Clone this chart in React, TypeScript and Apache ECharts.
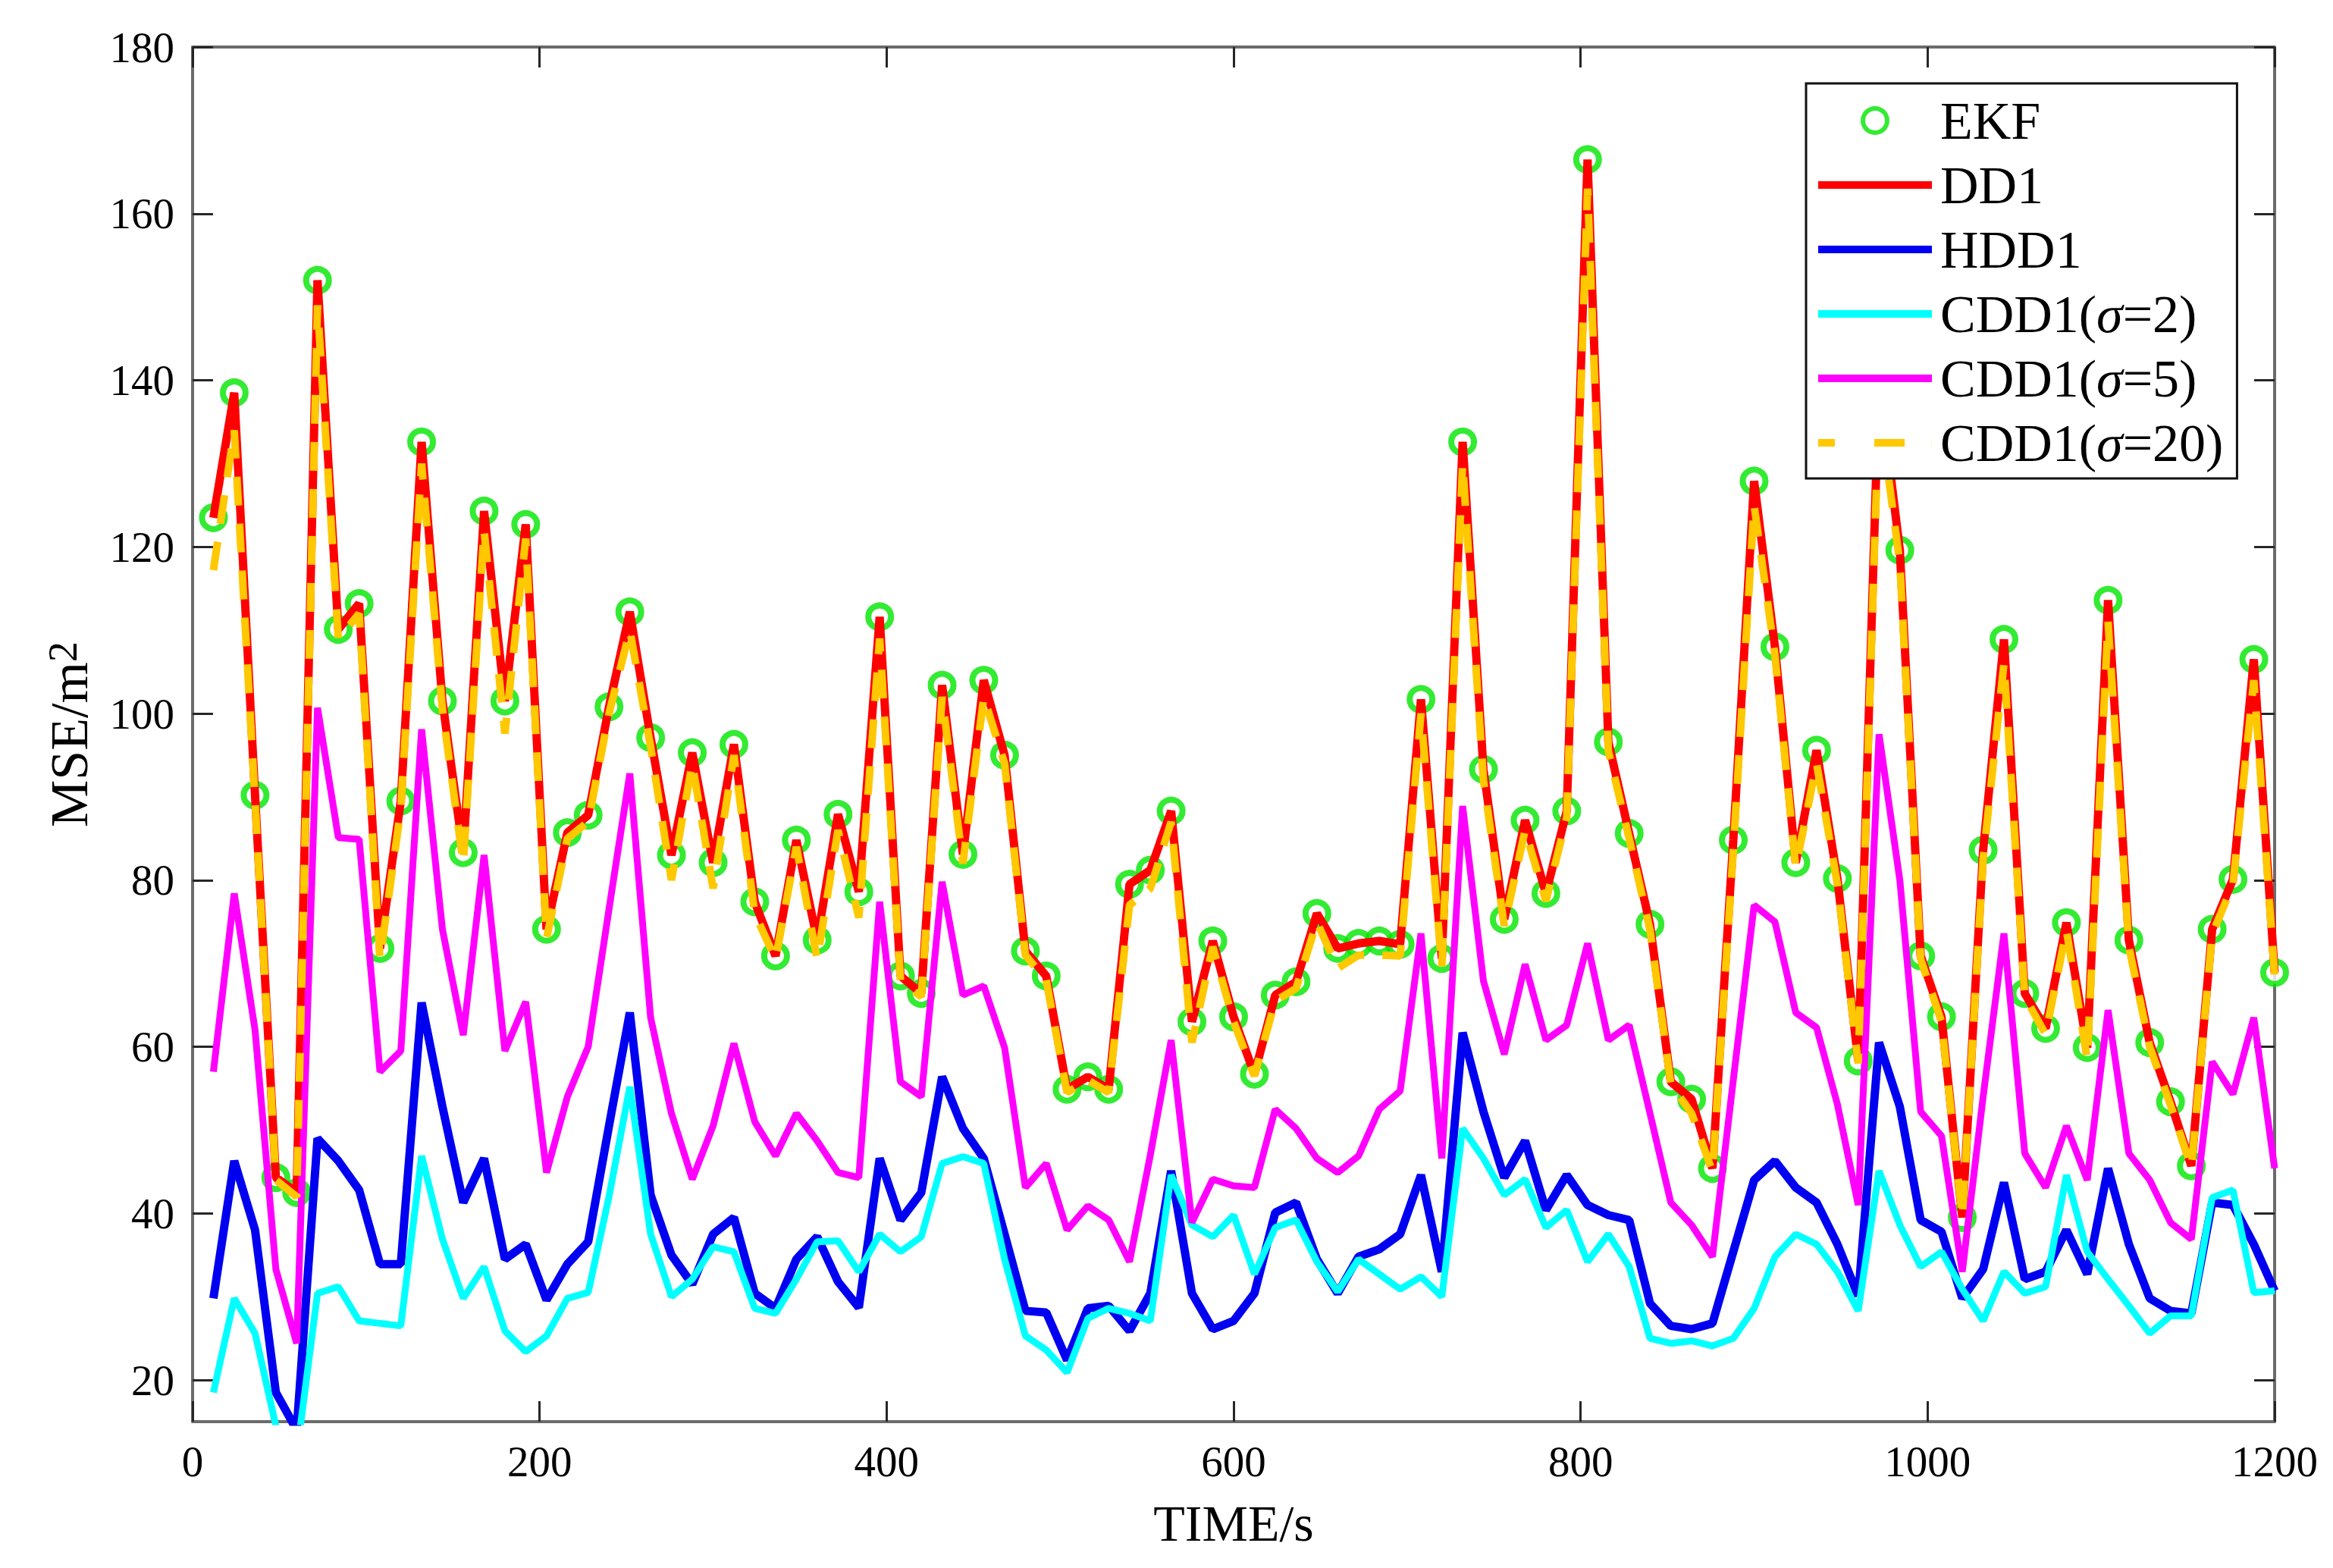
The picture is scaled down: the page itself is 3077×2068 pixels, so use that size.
import React, { useEffect, useRef } from "react";
import * as echarts from "echarts";

const TIME = [
  12, 24, 36, 48, 60, 72, 84, 96, 108, 120,
  132, 144, 156, 168, 180, 192, 204, 216, 228, 240,
  252, 264, 276, 288, 300, 312, 324, 336, 348, 360,
  372, 384, 396, 408, 420, 432, 444, 456, 468, 480,
  492, 504, 516, 528, 540, 552, 564, 576, 588, 600,
  612, 624, 636, 648, 660, 672, 684, 696, 708, 720,
  732, 744, 756, 768, 780, 792, 804, 816, 828, 840,
  852, 864, 876, 888, 900, 912, 924, 936, 948, 960,
  972, 984, 996, 1008, 1020, 1032, 1044, 1056, 1068, 1080,
  1092, 1104, 1116, 1128, 1140, 1152, 1164, 1176, 1188, 1200,
];

const EKF = [
  123.5, 138.5, 90.2, 44.3, 42.5, 152.0, 110.1, 113.2, 71.8, 89.5,
  132.6, 101.5, 83.3, 124.3, 101.5, 122.7, 74.1, 85.7, 87.8, 100.8,
  112.2, 97.1, 83.0, 95.3, 82.1, 96.3, 77.4, 70.9, 84.8, 72.8,
  87.9, 78.6, 111.6, 68.5, 66.4, 103.4, 83.1, 104.0, 95.0, 71.5,
  68.5, 54.9, 56.4, 54.9, 79.5, 81.2, 88.3, 63.0, 72.7, 63.6,
  56.7, 66.2, 67.8, 76.0, 71.8, 72.4, 72.7, 72.3, 101.7, 70.6,
  132.6, 93.3, 75.3, 87.2, 78.4, 88.3, 166.5, 96.6, 85.6, 74.7,
  55.8, 53.7, 45.4, 84.8, 127.9, 108.0, 82.1, 95.6, 80.2, 58.3,
  140.0, 119.6, 70.9, 63.6, 39.5, 83.6, 108.9, 66.4, 62.2, 74.9,
  59.9, 113.6, 72.8, 60.5, 53.4, 45.7, 74.1, 80.1, 106.5, 68.9,
];

const DD1 = [
  123.5, 138.5, 90.2, 44.3, 42.5, 152.0, 110.1, 113.2, 71.8, 89.5,
  132.6, 101.5, 83.3, 124.3, 101.5, 122.7, 74.1, 85.7, 87.8, 100.8,
  112.2, 97.1, 83.0, 95.3, 82.1, 96.3, 77.4, 70.9, 84.8, 72.8,
  87.9, 78.6, 111.6, 68.5, 66.4, 103.4, 83.1, 104.0, 95.0, 71.5,
  68.5, 54.9, 56.4, 54.9, 79.5, 81.2, 88.3, 63.0, 72.7, 63.6,
  56.7, 66.2, 67.8, 76.0, 71.8, 72.4, 72.7, 72.3, 101.7, 70.6,
  132.6, 93.3, 75.3, 87.2, 78.4, 88.3, 166.5, 96.6, 85.6, 74.7,
  55.8, 53.7, 45.4, 84.8, 127.9, 108.0, 82.1, 95.6, 80.2, 58.3,
  140.0, 119.6, 70.9, 63.6, 39.5, 83.6, 108.9, 66.4, 62.2, 74.9,
  59.9, 113.6, 72.8, 60.5, 53.4, 45.7, 74.1, 80.1, 106.5, 68.9,
];

const HDD1 = [
  29.8, 46.3, 38.0, 18.5, 14.0, 49.0, 46.3, 42.8, 33.9, 33.9,
  65.3, 52.8, 41.3, 46.6, 34.5, 36.3, 29.6, 33.9, 36.6, 50.5,
  64.1, 42.2, 35.0, 31.5, 37.5, 39.5, 30.4, 28.6, 34.5, 37.2,
  31.8, 28.7, 46.6, 39.2, 42.5, 56.4, 50.2, 46.6, 37.5, 28.3,
  28.1, 22.4, 28.6, 28.9, 25.9, 30.4, 45.1, 30.4, 26.1, 27.1,
  30.4, 40.1, 41.3, 34.5, 30.4, 34.8, 35.7, 37.5, 44.6, 33.0,
  61.7, 52.2, 44.3, 48.7, 40.4, 44.6, 41.0, 39.8, 39.2, 29.2,
  26.5, 26.1, 26.8, 35.4, 44.0, 46.3, 43.1, 41.3, 36.3, 30.1,
  60.5, 52.8, 39.2, 37.8, 29.8, 33.3, 43.7, 32.1, 33.0, 38.0,
  32.7, 45.4, 36.3, 29.8, 28.3, 28.0, 41.3, 41.0, 36.3, 30.7,
];

const CDD1_S2 = [
  18.5, 29.8, 25.6, 14.5, 11.0, 30.4, 31.2, 27.1, 26.8, 26.5,
  46.9, 36.9, 29.8, 33.6, 25.9, 23.4, 25.3, 29.8, 30.5, 42.0,
  55.2, 37.5, 30.0, 32.1, 36.0, 35.4, 28.6, 28.0, 32.1, 36.6,
  36.7, 33.0, 37.5, 35.4, 37.2, 46.0, 46.8, 46.0, 34.5, 25.3,
  23.6, 20.9, 27.4, 28.6, 28.0, 27.1, 44.6, 38.6, 37.2, 39.8,
  32.7, 38.3, 39.2, 34.2, 30.6, 34.5, 32.7, 30.9, 32.4, 30.0,
  50.2, 46.6, 42.2, 44.1, 38.3, 40.4, 34.2, 37.5, 33.6, 25.0,
  24.4, 24.7, 24.1, 25.0, 28.6, 34.8, 37.5, 36.3, 33.0, 28.3,
  45.1, 38.6, 33.6, 35.4, 30.9, 27.1, 33.0, 30.4, 31.2, 44.6,
  35.4, 32.1, 28.9, 25.6, 27.7, 27.7, 41.9, 42.8, 30.5, 30.7,
];

const CDD1_S5 = [
  57.0, 78.4, 62.0, 33.3, 24.4, 100.7, 85.1, 84.9, 57.0, 59.5,
  98.1, 74.1, 61.4, 83.0, 59.5, 65.4, 44.9, 54.0, 60.0, 76.5,
  92.8, 63.5, 52.0, 44.1, 50.5, 60.4, 51.0, 46.9, 52.0, 48.7,
  44.9, 44.3, 77.4, 55.8, 54.0, 79.8, 66.2, 67.3, 59.9, 43.1,
  46.0, 38.0, 40.9, 39.2, 34.2, 47.0, 60.8, 38.9, 44.1, 43.3,
  43.1, 52.5, 50.2, 46.6, 44.9, 46.9, 52.5, 54.7, 73.6, 46.6,
  88.9, 67.9, 59.1, 69.9, 60.8, 62.6, 72.4, 60.8, 62.6, 52.0,
  41.3, 38.6, 34.8, 56.0, 77.0, 75.0, 64.1, 62.3, 53.1, 41.0,
  97.5, 80.0, 52.2, 49.3, 33.0, 54.0, 73.6, 47.2, 43.1, 50.5,
  44.0, 64.4, 47.2, 44.0, 38.9, 36.9, 58.2, 54.3, 63.5, 45.4,
];

const CDD1_S20 = [
  117.2, 134.0, 89.5, 44.0, 42.0, 149.0, 109.0, 112.0, 70.5, 88.5,
  130.0, 100.5, 82.0, 122.0, 97.6, 121.0, 73.0, 85.0, 87.0, 100.0,
  110.0, 96.0, 80.0, 94.0, 79.0, 95.0, 76.0, 70.5, 84.0, 70.5,
  86.0, 75.5, 109.0, 68.0, 66.0, 102.0, 82.0, 102.0, 94.0, 71.0,
  68.0, 54.5, 56.0, 54.5, 77.0, 79.0, 87.0, 60.5, 72.0, 63.0,
  56.5, 65.5, 67.0, 75.0, 69.4, 71.0, 71.0, 70.9, 100.0, 69.5,
  130.0, 92.0, 74.5, 86.0, 77.5, 87.5, 163.0, 95.5, 85.0, 74.0,
  55.5, 52.0, 45.0, 83.5, 125.0, 107.0, 81.5, 94.0, 79.5, 58.0,
  137.0, 118.0, 70.5, 63.0, 39.5, 82.5, 106.0, 66.0, 61.5, 74.0,
  58.5, 111.0, 72.0, 60.0, 53.0, 45.5, 73.5, 79.5, 104.0, 68.5,
];

const SERIES_NAMES = ["EKF", "DD1", "HDD1", "CDD1(σ=2)", "CDD1(σ=5)", "CDD1(σ=20)"];
const SERIES_COLORS = ["#00e600", "#ff0000", "#0000f0", "#00ffff", "#ff00ff", "#ffc800"];
const Y_TICKS = [20, 40, 60, 80, 100, 120, 140, 160, 180];
const X_TICKS = [0, 200, 400, 600, 800, 1000, 1200];

const FONT = '"Liberation Serif", "Times New Roman", serif';

// legend icon shapes
const RING_ICON =
  "path://M0,19 A19,19 0 1,1 38,19 A19,19 0 1,1 0,19 Z M6,19 A13,13 0 1,0 32,19 A13,13 0 1,0 6,19 Z";
const LINE_ICON = "path://M0,0 H150 V10 H0 Z";
const DASH_ICON = "path://M0,0 H22 V10 H0 Z M74,0 H114 V10 H74 Z M149.8,0 H150 V10 H149.8 Z";

export default function App() {
  const ref = useRef<HTMLDivElement>(null);

  useEffect(() => {
    if (!ref.current) return;
    const chart = echarts.init(ref.current, null, { renderer: "svg" });
    const pts = (vals: number[]) => TIME.map((t, i) => [t, vals[i]]);

    const axisLineStyle = { color: "#6b6b6b", width: 4 };
    const tickStyle = { color: "#262626", width: 3 };
    const labelStyle = {
      color: "#000",
      fontFamily: FONT,
      fontSize: 57,
      formatter: (v: number) => String(v),
    };

    const legendFormatter = (name: string) => {
      const idx = name.indexOf("σ");
      if (idx < 0) return "{n|" + name + "}";
      return "{n|" + name.slice(0, idx) + "}{i|σ}{n|" + name.slice(idx + 1) + "}";
    };

    const lineSeries = (i: number, vals: number[], width: number, dash?: number[]) => ({
      name: SERIES_NAMES[i],
      type: "line",
      data: pts(vals),
      symbol: "none",
      showSymbol: false,
      lineStyle: { color: SERIES_COLORS[i], width, type: dash ? dash : "solid" },
      itemStyle: { color: SERIES_COLORS[i] },
      z: 3,
    });

    chart.setOption({
      animation: false,
      backgroundColor: "#ffffff",
      grid: { left: 254, right: 77, top: 62, bottom: 193, containLabel: false },
      xAxis: [
        {
          type: "value",
          min: 0,
          max: 1200,
          interval: 200,
          position: "bottom",
          axisLine: { show: true, onZero: false, lineStyle: axisLineStyle },
          axisTick: { show: true, inside: true, length: 27, lineStyle: tickStyle, customValues: X_TICKS },
          axisLabel: { ...labelStyle, margin: 24, customValues: X_TICKS },
          splitLine: { show: false },
          name: "TIME/s",
          nameLocation: "middle",
          nameGap: 100,
          nameTextStyle: { color: "#000", fontFamily: FONT, fontSize: 68 },
        },
        {
          type: "value",
          min: 0,
          max: 1200,
          interval: 200,
          position: "top",
          axisLine: { show: true, onZero: false, lineStyle: axisLineStyle },
          axisTick: { show: true, inside: true, length: 27, lineStyle: tickStyle, customValues: X_TICKS },
          axisLabel: { show: false },
          splitLine: { show: false },
        },
      ],
      yAxis: [
        {
          type: "value",
          min: 15,
          max: 180,
          position: "left",
          axisLine: { show: true, onZero: false, lineStyle: axisLineStyle },
          axisTick: { show: true, inside: true, length: 27, lineStyle: tickStyle, customValues: Y_TICKS },
          axisLabel: { ...labelStyle, margin: 24, customValues: Y_TICKS },
          splitLine: { show: false },
          name: "{a|MSE/m}{b|2}",
          nameLocation: "middle",
          nameRotate: 90,
          nameGap: 128,
          nameMoveOverlap: false,
          nameTextStyle: {
            color: "#000",
            fontFamily: FONT,
            fontSize: 70,
            rich: {
              a: { fontFamily: FONT, fontSize: 70, lineHeight: 70, verticalAlign: "bottom", color: "#000" },
              b: { fontFamily: FONT, fontSize: 54, lineHeight: 54, verticalAlign: "top", padding: [0, 0, 58, 0], color: "#000" },
            },
          },
        },
        {
          type: "value",
          min: 15,
          max: 180,
          position: "right",
          axisLine: { show: true, onZero: false, lineStyle: axisLineStyle },
          axisTick: { show: true, inside: true, length: 27, lineStyle: tickStyle, customValues: Y_TICKS },
          axisLabel: { show: false },
          splitLine: { show: false },
        },
      ],
      legend: {
        orient: "vertical",
        left: 2382,
        top: 110,
        backgroundColor: "#ffffff",
        borderColor: "#111",
        borderWidth: 3,
        borderRadius: 0,
        padding: [14, 18, 12, 16],
        itemWidth: 150,
        itemHeight: 38,
        itemGap: 15,
        z: 10,
        formatter: legendFormatter,
        textStyle: {
          color: "#000",
          fontFamily: FONT,
          fontSize: 70,
          padding: [0, 0, 0, 6],
          rich: {
            n: { color: "#000", fontFamily: FONT, fontSize: 70 },
            i: { color: "#000", fontFamily: FONT, fontSize: 70, fontStyle: "italic" },
          },
        },
        data: [
          { name: SERIES_NAMES[0], icon: RING_ICON, itemStyle: { color: SERIES_COLORS[0], borderWidth: 0 } },
          { name: SERIES_NAMES[1], icon: LINE_ICON, itemStyle: { color: SERIES_COLORS[1], borderWidth: 0 } },
          { name: SERIES_NAMES[2], icon: LINE_ICON, itemStyle: { color: SERIES_COLORS[2], borderWidth: 0 } },
          { name: SERIES_NAMES[3], icon: LINE_ICON, itemStyle: { color: SERIES_COLORS[3], borderWidth: 0 } },
          { name: SERIES_NAMES[4], icon: LINE_ICON, itemStyle: { color: SERIES_COLORS[4], borderWidth: 0 } },
          { name: SERIES_NAMES[5], icon: DASH_ICON, itemStyle: { color: SERIES_COLORS[5], borderWidth: 0 } },
        ],
      },
      series: [
        {
          name: SERIES_NAMES[0],
          type: "scatter",
          data: pts(EKF),
          symbol: "circle",
          symbolSize: 30,
          itemStyle: { color: "#ffffff", borderColor: SERIES_COLORS[0], borderWidth: 8 },
          z: 2,
        },
        lineSeries(1, DD1, 11),
        lineSeries(2, HDD1, 11),
        lineSeries(3, CDD1_S2, 9),
        lineSeries(4, CDD1_S5, 9),
        lineSeries(5, CDD1_S20, 10, [38, 24]),
      ],
    });

    return () => chart.dispose();
  }, []);

  return (
    <div
      ref={ref}
      style={{ position: "absolute", left: 0, top: 0, width: 3077, height: 2068, background: "#fff" }}
    />
  );
}
